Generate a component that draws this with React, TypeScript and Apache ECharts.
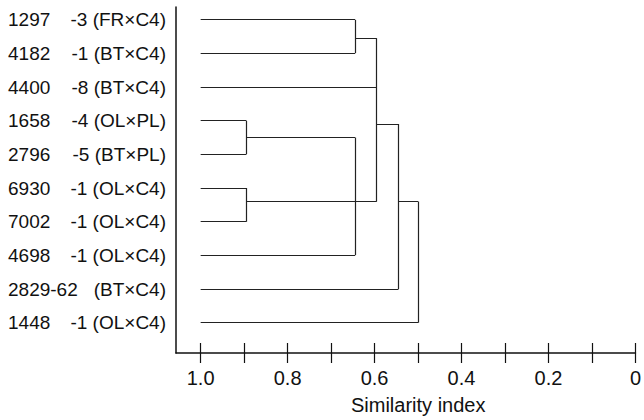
import React, { useEffect, useRef } from "react";
import * as echarts from "echarts";

// Leaf labels (top to bottom)
const leafIds = ["1297", "4182", "4400", "1658", "2796", "6930", "7002", "4698", "2829-62", "1448"];
const leafTails = ["-3 (FR×C4)", "-1 (BT×C4)", "-8 (BT×C4)", "-4 (OL×PL)", "-5 (BT×PL)", "-1 (OL×C4)", "-1 (OL×C4)", "-1 (OL×C4)", "(BT×C4)", "-1 (OL×C4)"];
// Similarity at which each leaf joins its cluster
const leafJoin = [0.645, 0.645, 0.595, 0.895, 0.895, 0.895, 0.895, 0.645, 0.545, 0.5];
// Vertical links: [similarity, row from, row to]
const verticalLinks: [number, number, number][] = [
  [0.645, 0, 1],
  [0.895, 3, 4],
  [0.895, 5, 6],
  [0.645, 3.5, 7],
  [0.595, 0.55, 5.4],
  [0.545, 3.1, 8],
  [0.5, 5.4, 9],
];
// Horizontal connectors: [row, similarity from, similarity to]
const horizontalLinks: [number, number, number][] = [
  [0.55, 0.645, 0.595],
  [3.5, 0.895, 0.645],
  [5.4, 0.895, 0.595],
  [3.1, 0.595, 0.545],
  [5.4, 0.545, 0.5],
];
const tickValues = [0, 0.1, 0.2, 0.3, 0.4, 0.5, 0.6, 0.7, 0.8, 0.9, 1.0];
const labelValues = [0, 0.2, 0.4, 0.6, 0.8, 1.0];

const FONT = "'Liberation Sans', Arial, Helvetica, sans-serif";
const INK = "#111";
const FS = 20;
const FS_Y = 19;

export default function App() {
  const ref = useRef<HTMLDivElement>(null);
  useEffect(() => {
    if (!ref.current) return;
    const chart = echarts.init(ref.current, undefined, { renderer: "svg" });
    const segs: any[] = [];
    leafJoin.forEach((x, i) => segs.push({ coords: [[1.0, i], [x, i]] }));
    verticalLinks.forEach(([x, a, b]) => segs.push({ coords: [[x, a], [x, b]] }));
    horizontalLinks.forEach(([y, a, b]) => segs.push({ coords: [[a, y], [b, y]] }));
    const rows = leafIds.map((_, i) => i);
    const xCommon = {
      type: "value",
      inverse: true,
      min: 0,
      max: 1.0567,
      position: "bottom",
      offset: 0,
      splitLine: { show: false },
    };
    const yCommon = {
      type: "value",
      inverse: true,
      min: -0.377,
      max: 9.9,
      position: "left",
      offset: 0,
      splitLine: { show: false },
      axisTick: { show: false },
    };
    chart.setOption({
      animation: false,
      backgroundColor: "#fff",
      grid: { left: 176, right: 7.3, top: 7, bottom: 59, containLabel: false },
      xAxis: [
        {
          ...xCommon,
          axisLine: { show: true, onZero: false, lineStyle: { color: INK, width: 1.5 } },
          axisTick: { show: true, length: 10, lineStyle: { color: INK, width: 1.2 }, customValues: tickValues },
          axisLabel: {
            customValues: labelValues,
            formatter: (v: number) => (v === 0 ? "0" : v.toFixed(1)),
            fontFamily: FONT,
            fontSize: FS,
            color: INK,
            margin: 15,
          },
          name: "Similarity index",
          nameLocation: "middle",
          nameGap: 42,
          nameTextStyle: { fontFamily: FONT, fontSize: FS, color: INK, padding: [0, 0, 0, 25] },
        },
        {
          ...xCommon,
          axisLine: { show: false, onZero: false },
          axisTick: { show: true, inside: true, length: 10, lineStyle: { color: INK, width: 1.2 }, customValues: tickValues },
          axisLabel: { show: false },
        },
      ],
      yAxis: [
        {
          ...yCommon,
          axisLine: { show: true, onZero: false, lineStyle: { color: INK, width: 1.5 } },
          axisLabel: {
            customValues: rows,
            formatter: (v: number) => leafIds[Math.round(v)] ?? "",
            align: "left",
            margin: 168,
            fontFamily: FONT,
            fontSize: FS_Y,
            color: INK,
          },
        },
        {
          ...yCommon,
          axisLine: { show: false, onZero: false },
          axisLabel: {
            customValues: rows,
            formatter: (v: number) => leafTails[Math.round(v)] ?? "",
            align: "right",
            margin: 10,
            fontFamily: FONT,
            fontSize: FS_Y,
            color: INK,
          },
        },
      ],
      series: [
        {
          type: "lines",
          coordinateSystem: "cartesian2d",
          xAxisIndex: 0,
          yAxisIndex: 0,
          silent: true,
          lineStyle: { color: "#222", width: 1.2, opacity: 1 },
          data: segs,
        },
      ],
    });
    return () => chart.dispose();
  }, []);
  return <div ref={ref} style={{ position: "fixed", left: 0, top: 0, width: 644, height: 420 }} />;
}
